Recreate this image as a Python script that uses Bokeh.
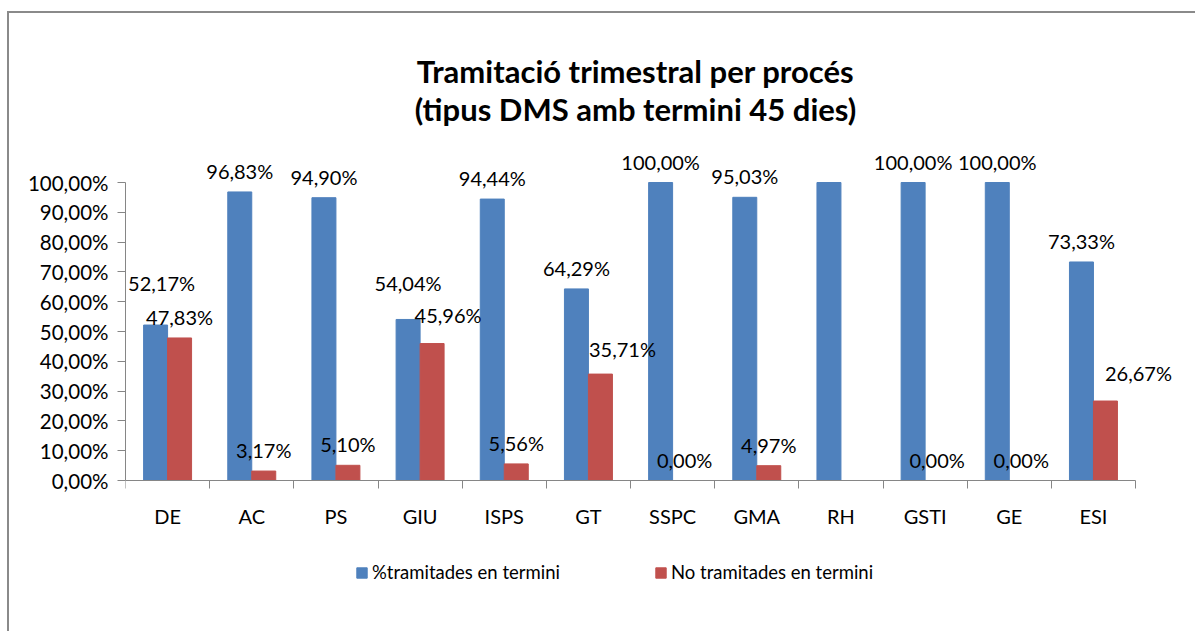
import numpy as np
from bokeh.plotting import figure
from bokeh.models import ColumnDataSource, Range1d, FixedTicker, Legend, LegendItem
from bokeh.core.properties import value
from bokeh.embed import file_html
from bokeh.resources import INLINE

# ---------------- data ----------------
categories = ["DE", "AC", "PS", "GIU", "ISPS", "GT", "SSPC", "GMA", "RH", "GSTI", "GE", "ESI"]
tramitades = [52.17, 96.83, 94.90, 54.04, 94.44, 64.29, 100.00, 95.03, 100.00, 100.00, 100.00, 73.33]
no_tramitades = [47.83, 3.17, 5.10, 45.96, 5.56, 35.71, 0.00, 4.97, None, 0.00, 0.00, 26.67]
blue_label_shown = [True, True, True, True, True, True, True, True, False, True, True, True]
y_ticks = [0, 10, 20, 30, 40, 50, 60, 70, 80, 90, 100]
y_tick_labels = ["0,00%", "10,00%", "20,00%", "30,00%", "40,00%", "50,00%",
                 "60,00%", "70,00%", "80,00%", "90,00%", "100,00%"]
series_names = ["%tramitades en termini", "No tramitades en termini"]
title_lines = ["Tramitació trimestral per procés", "(tipus DMS amb termini 45 dies)"]

# label nudges in pixels (dx, dy) relative to default placement above bar
blue_nudge = [(6, -21), (0, 0), (0, 0), (0, -15), (0, 0), (0, 0),
              (0, 0), (0, 0), (0, 0), (0, 0), (0, 0), (0, 0)]
red_nudge = [(0, 0), (0, 0), (0, 0), (16, -8), (0, 0), (22, -4),
             (0, 0), (0, 0), (0, 0), (0, 0), (0, 0), (33, -7)]

BLUE = "#4F81BD"
RED = "#C0504D"
AXIS = "#868686"
FONT = "Lato"


def fmt(v):
    return ("%.2f%%" % v).replace(".", ",")


n = len(categories)
idx = np.arange(n)
bw = 0.285
blue_x = idx + 0.5 - bw / 2
red_x = idx + 0.5 + bw / 2
red_vals = [np.nan if v is None else v for v in no_tramitades]

# layout (pixels, relative to the figure's content box)
left_border = 116
frame_w, frame_h = 1070, 618
zero_px = 467            # distance from frame top to the 0 % line
px_per_cat = 84.17
px_per_unit = 2.98
x_end = frame_w / px_per_cat
y_top = zero_px / px_per_unit
y_bottom = -(frame_h - zero_px) / px_per_unit

p = figure(frame_width=frame_w, frame_height=frame_h,
           output_backend="svg", toolbar_location=None,
           x_range=Range1d(0, x_end), y_range=Range1d(y_bottom, y_top),
           min_border_left=left_border, min_border_right=0,
           min_border_top=0, min_border_bottom=0)
p.styles = {"border-left": "2px solid #8a8a8a", "border-top": "2px solid #8a8a8a",
            "margin-left": "7px", "margin-top": "11px"}
p.outline_line_color = None
p.xgrid.visible = False
p.ygrid.visible = False
p.background_fill_color = "white"
p.border_fill_color = "white"

src_b = ColumnDataSource(dict(x=blue_x, top=tramitades))
src_r = ColumnDataSource(dict(x=red_x, top=red_vals))
rb = p.vbar(x="x", top="top", width=bw, bottom=0, source=src_b,
            fill_color=BLUE, line_color=BLUE)
rr = p.vbar(x="x", top="top", width=bw, bottom=0, source=src_r,
            fill_color=RED, line_color=RED)

# data labels
lb = dict(x=[], y=[], t=[], dx=[], dy=[])
for i in range(n):
    if blue_label_shown[i]:
        lb["x"].append(blue_x[i]); lb["y"].append(tramitades[i]); lb["t"].append(fmt(tramitades[i]))
        lb["dx"].append(blue_nudge[i][0]); lb["dy"].append(-21 + blue_nudge[i][1])
    if no_tramitades[i] is not None:
        lb["x"].append(red_x[i]); lb["y"].append(no_tramitades[i]); lb["t"].append(fmt(no_tramitades[i]))
        lb["dx"].append(red_nudge[i][0]); lb["dy"].append(-21 + red_nudge[i][1])
p.text(x="x", y="y", text="t", x_offset="dx", y_offset="dy", source=ColumnDataSource(lb),
       text_font=value(FONT), text_font_size="20px", text_color="black",
       text_align="center", text_baseline="middle")

# title
title_x = (635 - 125) / px_per_cat
title_y = [(zero_px - 57) / px_per_unit, (zero_px - 95) / px_per_unit]
p.text(x=[title_x, title_x], y=title_y, text=title_lines,
       text_font=value(FONT), text_font_style="bold", text_font_size="31px",
       text_color="black", text_align="center", text_baseline="alphabetic")

# y axis
ya = p.yaxis[0]
ya.bounds = (0, 100)
ya.ticker = FixedTicker(ticks=y_ticks, minor_ticks=[])
ya.major_label_overrides = {t: l for t, l in zip(y_ticks, y_tick_labels)}
ya.major_tick_out = 8
ya.major_tick_in = 0
ya.minor_tick_out = 0
ya.minor_tick_in = 0
ya.axis_line_color = AXIS
ya.major_tick_line_color = AXIS
ya.major_label_text_font = FONT
ya.major_label_text_font_size = "20.5px"
ya.major_label_text_color = "black"
ya.major_label_standoff = 9

# x axis, drawn on the 0 % line
xa = p.xaxis[0]
xa.fixed_location = 0
xa.bounds = (0, n)
centers = [float(i) + 0.5 for i in range(n)]
xa.ticker = FixedTicker(ticks=centers, minor_ticks=[float(i) for i in range(n + 1)])
xa.major_label_overrides = {c: cat for c, cat in zip(centers, categories)}
xa.major_tick_out = 0
xa.major_tick_in = 0
xa.minor_tick_out = 8
xa.minor_tick_in = 0
xa.axis_line_color = AXIS
xa.minor_tick_line_color = AXIS
xa.major_label_text_font = FONT
xa.major_label_text_font_size = "20px"
xa.major_label_text_color = "black"
xa.major_label_standoff = 15

legend = Legend(items=[LegendItem(label=series_names[0], renderers=[rb]),
                       LegendItem(label=series_names[1], renderers=[rr])],
                orientation="horizontal", location=(230, 48),
                glyph_width=13, glyph_height=13, label_standoff=4, spacing=94,
                border_line_color=None, background_fill_alpha=0,
                label_text_font=FONT, label_text_font_size="18.5px",
                label_text_color="black", margin=0, padding=0)
p.add_layout(legend, "center")

open("out.html", "w").write(file_html(p, INLINE))
